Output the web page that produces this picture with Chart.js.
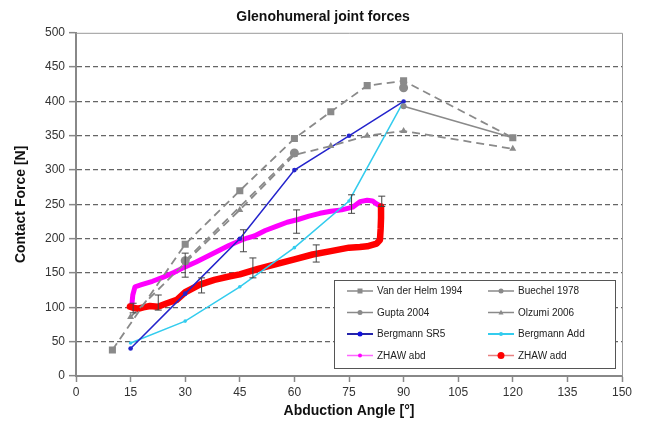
<!DOCTYPE html>
<html>
<head>
<meta charset="utf-8">
<script src="https://cdn.jsdelivr.net/npm/chart.js@4.4.1/dist/chart.umd.min.js"></script>
<style>
  html, body { margin: 0; padding: 0; background: #fff; }
  #wrap { width: 646px; height: 428px; }
</style>
</head>
<body>
<div id="wrap"><canvas id="forces" width="646" height="428"></canvas></div>
<script>
// abduction angle [deg] and contact force [N]
const vanDerHelmX = [10, 30, 45, 60, 70, 80, 90, 120];
const vanDerHelmY = [38, 192, 270, 346, 385, 423, 430, 347];

const buechelX = [90, 120];
const buechelY = [393, 347];

const guptaX = [30, 60, 90];
const guptaY = [168, 325, 420];

const olzumiX = [15, 30, 45, 60, 70, 80, 90, 120];
const olzumiY = [86, 165, 242, 322, 335, 350, 357, 331];

const bergmannSR5X = [15, 30, 45, 60, 75, 90];
const bergmannSR5Y = [40, 120, 200, 300, 350, 400];

const bergmannAddX = [15, 30, 45, 60, 75, 90];
const bergmannAddY = [48, 80, 130, 187, 255, 400];

const zhawAbdX = [15.3, 15.6, 16.2, 18, 21, 24, 27, 30, 33, 36, 39, 42, 45, 47, 49, 52, 55, 58, 61, 64, 67, 70, 73, 76, 78, 80, 81.5, 82.5, 83.5];
const zhawAbdY = [101, 118, 130, 133, 138, 144, 151, 159, 166, 174, 182, 190, 197, 201, 204, 212, 218, 224, 228, 233, 237, 240, 242, 246, 254, 256, 255, 251, 248];

const zhawAddX = [14.8, 16, 17, 18.5, 20.3, 22.5, 25, 27.7, 30, 34, 38, 42, 45, 50, 55, 60, 65, 70, 75, 78, 80, 82.6, 83.5, 83.7, 83.8, 83.8];
const zhawAddY = [101, 99, 98, 100, 102, 101, 106, 111, 122, 133, 140, 145, 148, 156, 163, 170, 177, 182, 187, 188, 189, 193, 198, 215, 230, 247];

// error bars on the ZHAW curves
const errX = [15.7, 22.6, 30, 34.5, 46, 48.6, 60.6, 66, 75.7, 84];
const errLow = [92, 96, 144, 121, 181, 143, 208, 166, 237, 247];
const errHigh = [106, 118, 179, 143, 213, 172, 242, 191, 264, 262];

const xTicks = [0, 15, 30, 45, 60, 75, 90, 105, 120, 135, 150];
const yTicks = [0, 50, 100, 150, 200, 250, 300, 350, 400, 450, 500];

const FONT = 'Arial, "Liberation Sans", Helvetica, sans-serif';
Chart.defaults.font.family = FONT;
Chart.defaults.color = '#333';

const toPoints = (xs, ys) => xs.map((x, i) => ({ x: x, y: ys[i] }));

function errorBarPoints() {
    const pts = [];
    errX.forEach((x, i) => {
        pts.push({ x: x, y: errLow[i] }, { x: x, y: errHigh[i] }, { x: x, y: null });
    });
    return pts;
}

const GREY = '#8a8a8a';

// top / right edge of the plot box
const frameBox = {
    id: 'frameBox',
    beforeDatasetsDraw(chart) {
        const { ctx, chartArea: a } = chart;
        ctx.save();
        ctx.strokeStyle = '#999';
        ctx.lineWidth = 1;
        ctx.beginPath();
        ctx.moveTo(a.left, a.top + 0.5);
        ctx.lineTo(a.right + 0.5, a.top + 0.5);
        ctx.lineTo(a.right + 0.5, a.bottom);
        ctx.stroke();
        ctx.restore();
    }
};

function drawMarker(ctx, style, x, y, r, color) {
    ctx.fillStyle = color;
    ctx.beginPath();
    if (style === 'rect') {
        ctx.rect(x - r, y - r, 2 * r, 2 * r);
    } else if (style === 'triangle') {
        ctx.moveTo(x, y - r * 1.1);
        ctx.lineTo(x + r, y + r * 0.8);
        ctx.lineTo(x - r, y + r * 0.8);
        ctx.closePath();
    } else {
        ctx.arc(x, y, r, 0, Math.PI * 2);
    }
    ctx.fill();
}

// boxed two-column legend inside the plot, bottom right
const boxLegend = {
    id: 'boxLegend',
    afterDraw(chart) {
        const { ctx, chartArea: a } = chart;
        const left = a.right - 288, top = a.bottom - 96;
        const w = 281, h = 88;
        ctx.save();
        ctx.fillStyle = '#fff';
        ctx.fillRect(left, top, w, h);
        ctx.strokeStyle = '#555';
        ctx.lineWidth = 1;
        ctx.strokeRect(left + 0.5, top + 0.5, w, h);

        ctx.font = '10px ' + FONT;
        ctx.textBaseline = 'middle';
        ctx.textAlign = 'left';
        const items = chart.data.datasets.filter(ds => ds.legend);
        items.forEach((ds, i) => {
            const col = i % 2, row = Math.floor(i / 2);
            const lx = left + 13 + col * 141;
            const ly = top + 11 + row * 21.5;
            const lg = ds.legend;
            ctx.strokeStyle = lg.line;
            ctx.lineWidth = lg.width;
            ctx.beginPath();
            ctx.moveTo(lx, ly);
            ctx.lineTo(lx + 26, ly);
            ctx.stroke();
            drawMarker(ctx, lg.style, lx + 13, ly, lg.r, lg.color);
            ctx.fillStyle = '#222';
            ctx.fillText(ds.label, lx + 30, ly + 0.5);
        });
        ctx.restore();
    }
};

const ctx = document.getElementById('forces').getContext('2d');
new Chart(ctx, {
    type: 'line',
    data: {
        datasets: [
            {
                label: 'error',
                data: errorBarPoints(),
                borderColor: '#444',
                borderWidth: 1,
                spanGaps: false,
                pointStyle: 'line',
                pointRadius: 3.5,
                pointBorderWidth: 1,
                pointBorderColor: '#444',
                order: 0
            },
            {
                label: 'Van der Helm 1994',
                data: toPoints(vanDerHelmX, vanDerHelmY),
                borderColor: GREY, backgroundColor: GREY,
                borderWidth: 1.8, borderDash: [8, 5],
                pointStyle: 'rect', pointRadius: 5, pointBorderWidth: 0,
                order: 1,
                legend: { line: GREY, width: 1.5, style: 'rect', r: 2.5, color: GREY }
            },
            {
                label: 'Buechel 1978',
                data: toPoints(buechelX, buechelY),
                borderColor: GREY, backgroundColor: GREY,
                borderWidth: 1.6,
                pointStyle: 'circle', pointRadius: 3, pointBorderWidth: 0,
                order: 1,
                legend: { line: GREY, width: 1.5, style: 'circle', r: 2.5, color: GREY }
            },
            {
                label: 'Gupta 2004',
                data: toPoints(guptaX, guptaY),
                borderColor: GREY, backgroundColor: GREY,
                borderWidth: 1.8, borderDash: [8, 5],
                segment: {
                    borderColor: c => (c.p0.parsed.x >= 60 ? 'rgba(0,0,0,0)' : undefined)
                },
                pointStyle: 'circle', pointRadius: 4.5, pointBorderWidth: 0,
                order: 1,
                legend: { line: GREY, width: 1.5, style: 'circle', r: 2.5, color: GREY }
            },
            {
                label: 'Olzumi 2006',
                data: toPoints(olzumiX, olzumiY),
                borderColor: GREY, backgroundColor: GREY,
                borderWidth: 1.8, borderDash: [8, 5],
                pointStyle: 'triangle', pointRadius: 4, pointBorderWidth: 0,
                order: 1,
                legend: { line: GREY, width: 1.5, style: 'triangle', r: 2.5, color: GREY }
            },
            {
                label: 'Bergmann SR5',
                data: toPoints(bergmannSR5X, bergmannSR5Y),
                borderColor: '#2424cc', backgroundColor: '#2424cc',
                borderWidth: 1.5,
                pointStyle: 'circle', pointRadius: 2.3, pointBorderWidth: 0,
                order: 2,
                legend: { line: '#2424aa', width: 2, style: 'circle', r: 2.5, color: '#1010dd' }
            },
            {
                label: 'Bergmann Add',
                data: toPoints(bergmannAddX, bergmannAddY),
                borderColor: '#33ccee', backgroundColor: '#33ccee',
                borderWidth: 1.5,
                pointStyle: 'circle', pointRadius: 1.8, pointBorderWidth: 0,
                order: 3,
                legend: { line: '#33ccee', width: 2, style: 'circle', r: 2, color: '#33ccee' }
            },
            {
                label: 'ZHAW abd',
                data: toPoints(zhawAbdX, zhawAbdY),
                borderColor: '#ff00ff',
                borderWidth: 5, borderJoinStyle: 'round', borderCapStyle: 'round',
                pointRadius: 0,
                order: 5,
                legend: { line: '#ff66ff', width: 1.5, style: 'circle', r: 2, color: '#ff00ff' }
            },
            {
                label: 'ZHAW add',
                data: toPoints(zhawAddX, zhawAddY),
                borderColor: '#ff0000',
                borderWidth: 6.5, borderJoinStyle: 'round', borderCapStyle: 'round',
                pointRadius: 0,
                order: 4,
                legend: { line: '#e88080', width: 1.5, style: 'circle', r: 3.5, color: '#ff0000' }
            }
        ]
    },
    options: {
        responsive: false,
        animation: false,
        layout: { padding: 0 },
        plugins: {
            legend: { display: false },
            tooltip: { enabled: false },
            title: {
                display: true,
                text: 'Glenohumeral joint forces',
                font: { size: 14, weight: 'bold' },
                color: '#111',
                padding: { top: 9, bottom: 7 }
            }
        },
        scales: {
            x: {
                type: 'linear',
                min: xTicks[0],
                max: xTicks[xTicks.length - 1],
                afterBuildTicks: s => { s.ticks = xTicks.map(v => ({ value: v })); },
                ticks: { font: { size: 12 }, color: '#333', padding: 3 },
                grid: { drawOnChartArea: false, tickLength: 6, tickColor: '#888', tickWidth: 1.5 },
                border: { color: '#888', width: 2 },
                title: {
                    display: true,
                    text: 'Abduction Angle [°]',
                    font: { size: 14, weight: 'bold' },
                    color: '#111',
                    padding: { top: 2, bottom: 8 }
                },
                afterFit: s => { s.height = 52; s.paddingRight = 24; }
            },
            y: {
                min: yTicks[0],
                max: yTicks[yTicks.length - 1],
                afterBuildTicks: s => { s.ticks = yTicks.map(v => ({ value: v })); },
                ticks: { font: { size: 12 }, color: '#333', padding: 4 },
                grid: {
                    color: c => (c.tick && (c.tick.value === 0 || c.tick.value === 500)) ? 'rgba(0,0,0,0)' : '#666',
                    lineWidth: 1.3,
                    tickLength: 7,
                    tickColor: '#888',
                    tickWidth: 1.5
                },
                border: { color: '#888', width: 2, dash: [5, 3] },
                title: {
                    display: true,
                    text: 'Contact Force [N]',
                    font: { size: 14, weight: 'bold' },
                    color: '#111',
                    padding: { top: 13, bottom: 0 }
                },
                afterFit: s => { s.width = 76; }
            }
        }
    },
    plugins: [frameBox, boxLegend]
});
</script>
</body>
</html>
